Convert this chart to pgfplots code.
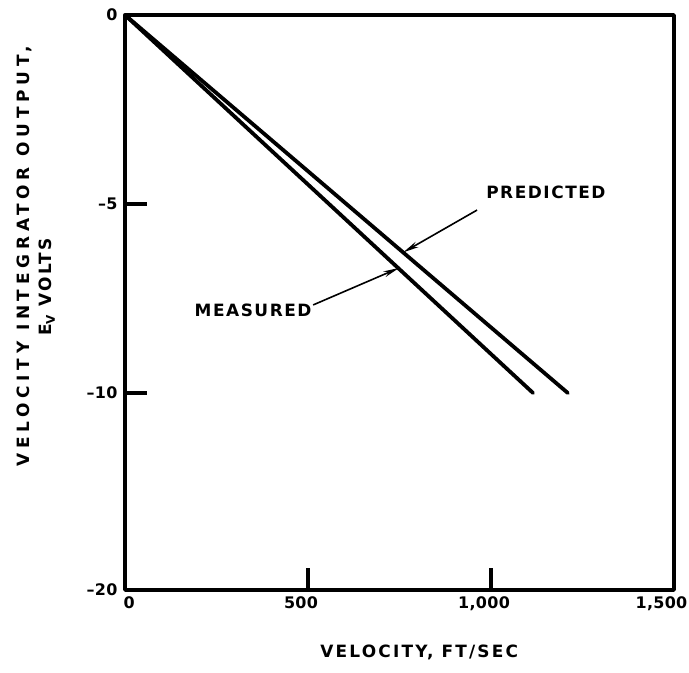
\documentclass[border=0pt]{standalone}
\usepackage{fontspec}
\usepackage{pgfplots}
\pgfplotsset{compat=1.18}
\usetikzlibrary{arrows.meta}
\setmainfont{DejaVu Sans}
\newfontfamily\ticks[LetterSpace=2]{DejaVu Sans}
\newfontfamily\lab[LetterSpace=9]{DejaVu Sans}
\newfontfamily\labx[LetterSpace=13]{DejaVu Sans}
\newfontfamily\labmid[LetterSpace=14]{DejaVu Sans}
\newfontfamily\labwide[LetterSpace=28]{DejaVu Sans}

% measured and predicted integrator output (volts) against velocity (ft/sec)
\pgfplotstableread{
v     ev
0     0
1115  -10
}\measured
\pgfplotstableread{
v     ev
0     0
1210  -10
}\predicted

\begin{document}
\begin{tikzpicture}
\useasboundingbox (-125bp,-83bp) rectangle (564bp,590bp);
\begin{axis}[
  scale only axis,
  width=549bp, height=575bp,
  xmin=0, xmax=1500,
  ymin=-15.21, ymax=0,
  axis line style={line width=3.4bp, line cap=round, line join=round},
  xtick={0,500,1000,1500},
  xticklabels={\hphantom{00}0,500,{1,000},{1,500\hphantom{0}}},
  ytick={0,-5,-10,-15.21},
  yticklabels={0,\textendash5,\textendash10,\textendash20},
  xtick pos=bottom, ytick pos=left,
  tick align=inside,
  major tick length=22bp,
  tick style={line width=3.2bp, black},
  xticklabel style={font=\ticks\bfseries\fontsize{16}{16}\selectfont, yshift=-3bp, xshift=-7bp},
  yticklabel style={font=\ticks\bfseries\fontsize{16}{16}\selectfont, xshift=-4bp},
  clip=false,
]
\addplot[black, line width=3.8bp, line cap=round] table[x=v, y=ev] {\measured};
\addplot[black, line width=3.8bp, line cap=round] table[x=v, y=ev] {\predicted};

% callouts
\draw[line width=1.6bp, -{Stealth[length=16bp,width=6bp]}] (axis cs:514,-7.67) -- (axis cs:749,-6.69);
\draw[line width=1.6bp, -{Stealth[length=16bp,width=6bp]}] (axis cs:962,-5.16) -- (axis cs:760,-6.28);
\node[font=\lab\bfseries\fontsize{17}{17}\selectfont] at (axis cs:1150,-4.68) {PREDICTED};
\node[font=\lab\bfseries\fontsize{17}{17}\selectfont] at (axis cs:350,-7.80) {MEASURED};

% axis titles
\node[font=\labx\bfseries\fontsize{17}{17}\selectfont] at (rel axis cs:0.536,-0.108) {VELOCITY, FT/SEC};
\node[rotate=90, font=\labwide\bfseries\fontsize{17}{17}\selectfont] at (rel axis cs:-0.184,0.580) {VELOCITY INTEGRATOR OUTPUT,};
\node[rotate=90, font=\labmid\bfseries\fontsize{17}{17}\selectfont] at (rel axis cs:-0.142,0.527) {E\raisebox{-0.35ex}{\fontsize{12}{12}\selectfont V} VOLTS};
\end{axis}
\end{tikzpicture}
\end{document}
